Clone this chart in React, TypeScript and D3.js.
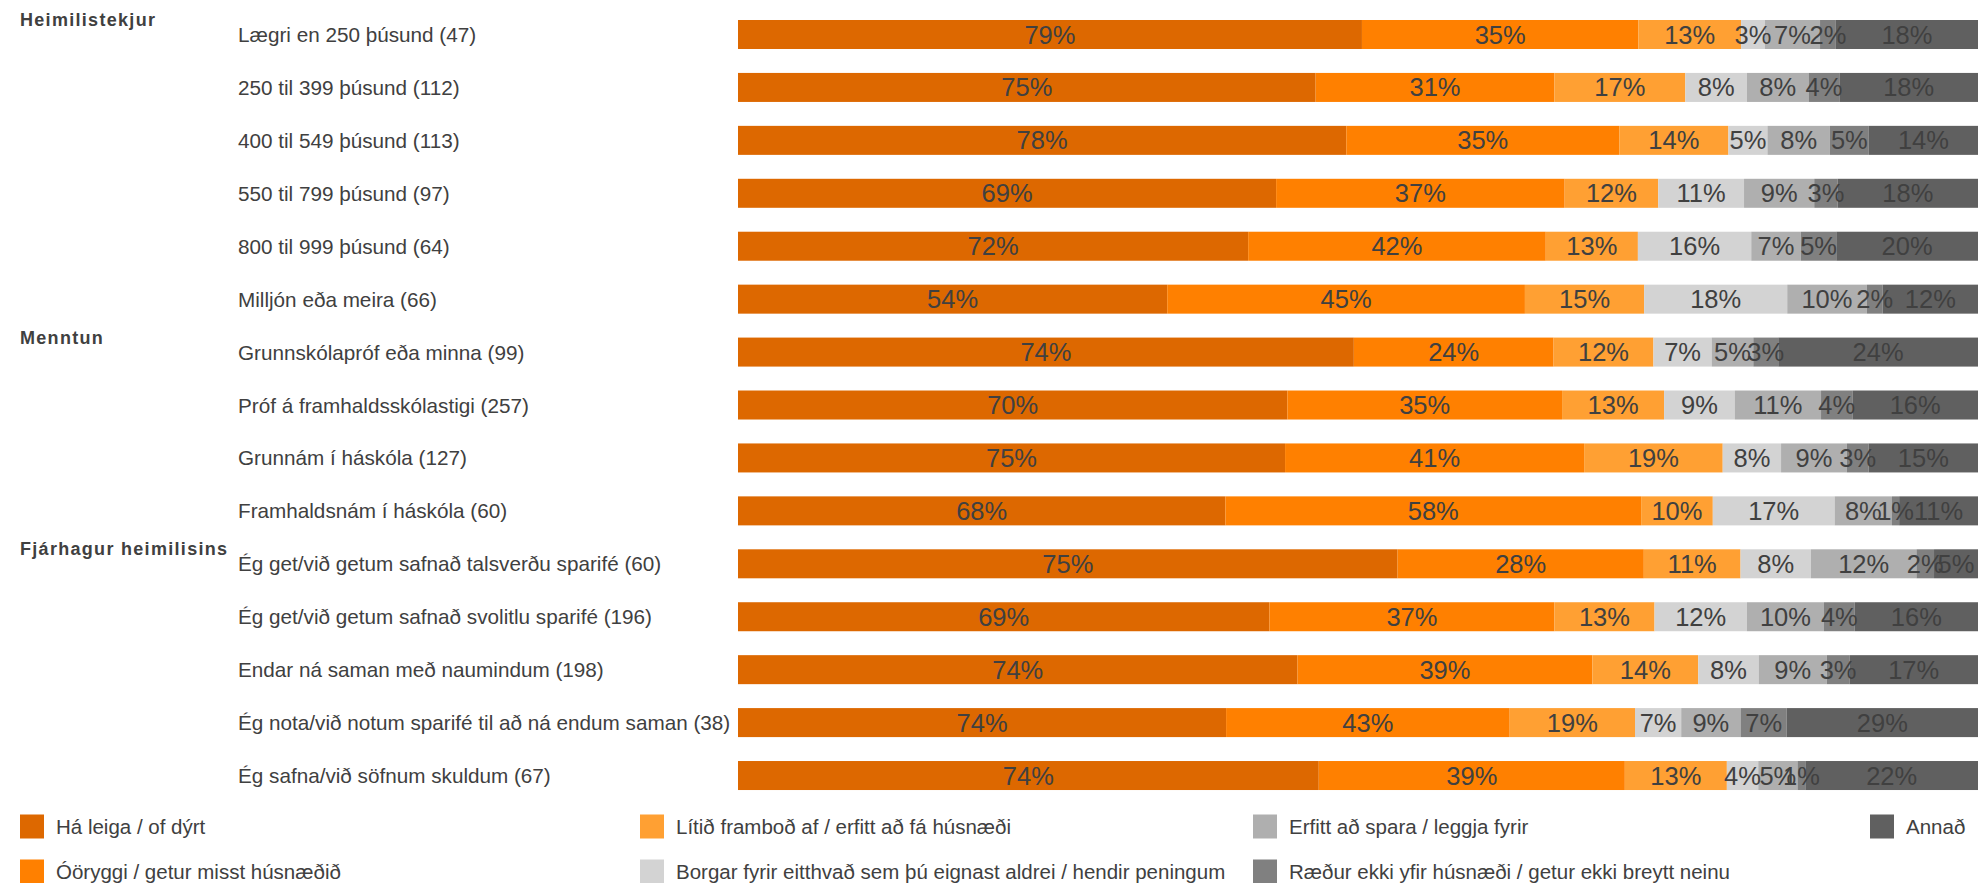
import React from "react";
import * as d3 from "d3";

const W = 1978;
const H = 883;

const groups = ["Heimilistekjur", "Menntun", "Fjárhagur heimilisins"];
const groupOfRow = [0, 0, 0, 0, 0, 0, 1, 1, 1, 1, 2, 2, 2, 2, 2];

const categories = [
  "Lægri en 250 þúsund (47)",
  "250 til 399 þúsund (112)",
  "400 til 549 þúsund (113)",
  "550 til 799 þúsund (97)",
  "800 til 999 þúsund (64)",
  "Milljón eða meira (66)",
  "Grunnskólapróf eða minna (99)",
  "Próf á framhaldsskólastigi (257)",
  "Grunnám í háskóla (127)",
  "Framhaldsnám í háskóla (60)",
  "Ég get/við getum safnað talsverðu sparifé (60)",
  "Ég get/við getum safnað svolitlu sparifé (196)",
  "Endar ná saman með naumindum (198)",
  "Ég nota/við notum sparifé til að ná endum saman (38)",
  "Ég safna/við söfnum skuldum (67)",
];

const seriesNames = [
  "Há leiga / of dýrt",
  "Óöryggi / getur misst húsnæðið",
  "Lítið framboð af / erfitt að fá húsnæði",
  "Borgar fyrir eitthvað sem þú eignast aldrei / hendir peningum",
  "Erfitt að spara / leggja fyrir",
  "Ræður ekki yfir húsnæði / getur ekki breytt neinu",
  "Annað",
];

const haLeiga = [79, 75, 78, 69, 72, 54, 74, 70, 75, 68, 75, 69, 74, 74, 74];
const ooryggi = [35, 31, 35, 37, 42, 45, 24, 35, 41, 58, 28, 37, 39, 43, 39];
const litidFrambod = [13, 17, 14, 12, 13, 15, 12, 13, 19, 10, 11, 13, 14, 19, 13];
const borgarFyrir = [3, 8, 5, 11, 16, 18, 7, 9, 8, 17, 8, 12, 8, 7, 4];
const erfittAdSpara = [7, 8, 8, 9, 7, 10, 5, 11, 9, 8, 12, 10, 9, 9, 5];
const raedurEkki = [2, 4, 5, 3, 5, 2, 3, 4, 3, 1, 2, 4, 3, 7, 1];
const annad = [18, 18, 14, 18, 20, 12, 24, 16, 15, 11, 5, 16, 17, 29, 22];

const seriesValues = [haLeiga, ooryggi, litidFrambod, borgarFyrir, erfittAdSpara, raedurEkki, annad];

const colors = ["#DD6800", "#FF8000", "#FFA033", "#D3D3D3", "#AFAFAF", "#808080", "#606060"];

const TEXT = "#404040";
const FONT = "'Liberation Sans', Arial, sans-serif";

export default function App() {
  const keys = seriesNames.map((_, i) => "s" + i);
  const rows = categories.map((c, r) => {
    const o: any = { cat: c };
    keys.forEach((k, i) => (o[k] = seriesValues[i][r]));
    return o;
  });
  const stacked = d3.stack().keys(keys).offset(d3.stackOffsetExpand)(rows as any);

  const barPad = 0.452;
  const step = 52.93;
  const y0 = 20 - step * (barPad / 2);
  const y = d3
    .scaleBand<string>()
    .domain(categories)
    .range([y0, y0 + step * categories.length])
    .paddingInner(barPad)
    .paddingOuter(barPad / 2);
  const x = d3.scaleLinear().domain([0, 1]).range([738, W]);

  const groupFirst: number[] = groups.map((_, g) => groupOfRow.indexOf(g));

  const legendCols = [20, 640, 1253, 1870];
  const legendRows = [826.5, 871.5];

  return (
    <svg
      width={W}
      height={H}
      style={{ position: "absolute", left: 0, top: 0, background: "#fff" }}
      fontFamily={FONT}
    >
      {groups.map((g, gi) => {
        const r = groupFirst[gi];
        const bandStart = (y(categories[r]) as number) - y.step() * (barPad / 2);
        return (
          <text
            key={g}
            x={20}
            y={bandStart + 18}
            fontSize={18}
            fontWeight="bold"
            letterSpacing={1.3}
            fill={TEXT}
          >
            {g}
          </text>
        );
      })}
      {categories.map((c) => (
        <text
          key={c}
          x={238}
          y={(y(c) as number) + y.bandwidth() / 2}
          dominantBaseline="central"
          fontSize={20.7}
          fill={TEXT}
        >
          {c}
        </text>
      ))}
      {stacked.map((s, si) => (
        <g key={s.key} fill={colors[si]}>
          {s.map((d, ri) => (
            <rect
              key={ri}
              x={x(d[0])}
              y={y(categories[ri])}
              width={Math.max(0, x(d[1]) - x(d[0]))}
              height={y.bandwidth()}
            />
          ))}
        </g>
      ))}
      {stacked.map((s, si) => (
        <g key={"l" + s.key}>
          {s.map((d, ri) => (
            <text
              key={ri}
              x={(x(d[0]) + x(d[1])) / 2}
              y={(y(categories[ri]) as number) + y.bandwidth() / 2}
              textAnchor="middle"
              dominantBaseline="central"
              fontSize={25.5}
              fill={TEXT}
            >
              {seriesValues[si][ri]}%
            </text>
          ))}
        </g>
      ))}
      {seriesNames.map((n, i) => {
        const col = Math.floor(i / 2);
        const row = i % 2;
        const lx = legendCols[col];
        const ly = legendRows[row];
        return (
          <g key={n}>
            <rect x={lx} y={ly - 12} width={24} height={24} fill={colors[i]} />
            <text x={lx + 36} y={ly} dominantBaseline="central" fontSize={20.5} fill={TEXT}>
              {n}
            </text>
          </g>
        );
      })}
    </svg>
  );
}
